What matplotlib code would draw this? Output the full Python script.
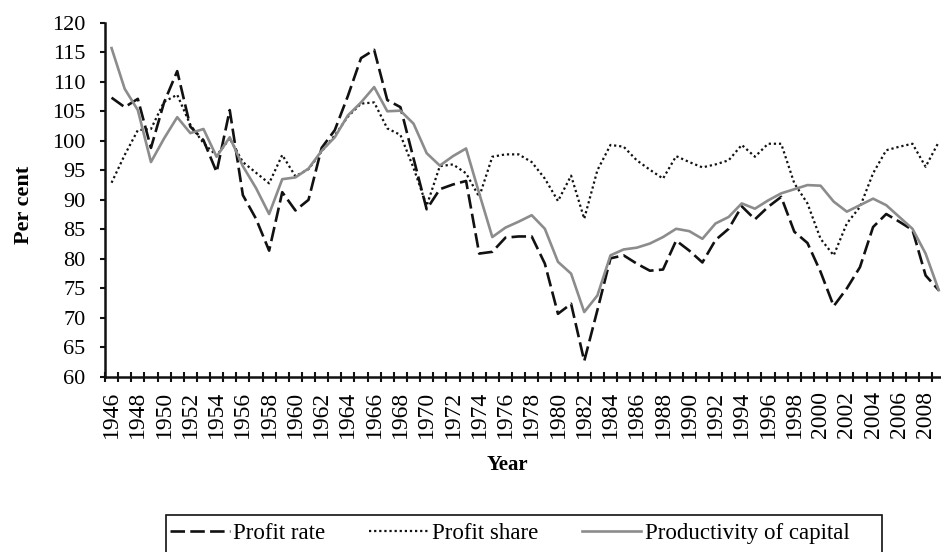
import numpy as np
import matplotlib
matplotlib.use('Agg')
import matplotlib.pyplot as plt
from matplotlib.patches import Rectangle
from matplotlib.ticker import FixedLocator

years = list(range(1946, 2010))

profit_rate = [107.3, 105.7, 107.1, 98.8, 106.5, 111.8, 102.4, 100.1, 94.7, 105.2,
               90.8, 86.8, 81.4, 91.3, 88.2, 90.0, 98.8, 101.8, 107.6, 114.0,
               115.4, 106.9, 105.7, 97.0, 88.4, 91.8, 92.6, 93.2, 80.9, 81.2,
               83.6, 83.8, 83.8, 79.2, 70.7, 72.4, 62.7, 71.3, 80.1, 80.6,
               79.2, 78.0, 78.2, 83.1, 81.4, 79.4, 83.2, 85.1, 88.9, 86.7,
               88.8, 90.5, 84.6, 82.7, 77.8, 72.0, 75.0, 78.6, 85.4, 87.6,
               86.3, 84.9, 77.2, 74.7]

profit_share = [92.9, 97.6, 101.8, 102.0, 106.6, 107.8, 102.7, 99.6, 97.5, 100.4,
                96.4, 94.6, 92.8, 97.6, 94.0, 95.2, 98.2, 100.9, 104.1, 106.3,
                106.5, 102.1, 101.0, 95.4, 89.0, 95.7, 96.0, 94.5, 90.5, 97.3,
                97.7, 97.7, 96.4, 93.6, 89.8, 94.1, 86.8, 95.0, 99.3, 99.0,
                96.7, 95.1, 93.6, 97.4, 96.4, 95.5, 96.0, 96.7, 99.3, 97.3,
                99.5, 99.5, 92.8, 89.4, 83.4, 80.6, 86.0, 88.8, 94.5, 98.4,
                99.0, 99.5, 95.6, 99.8]

productivity = [115.7, 108.8, 105.2, 96.4, 100.4, 104.0, 101.3, 102.0, 97.3, 100.6,
                95.7, 92.0, 87.6, 93.5, 93.8, 95.3, 98.3, 100.6, 104.3, 106.5,
                109.1, 105.0, 105.1, 102.9, 97.9, 95.8, 97.4, 98.7, 91.1, 83.7,
                85.3, 86.3, 87.4, 85.1, 79.5, 77.5, 71.0, 73.8, 80.6, 81.6,
                81.9, 82.6, 83.7, 85.1, 84.7, 83.4, 86.0, 87.1, 89.4, 88.5,
                89.9, 91.1, 91.8, 92.5, 92.4, 89.7, 88.0, 89.1, 90.2, 89.1,
                87.1, 85.1, 80.9, 74.7]

plt.rcParams['font.family'] = ['Liberation Serif', 'DejaVu Serif']

W, H = 941, 552
fig = plt.figure(figsize=(W / 100, H / 100), dpi=100)

# plot area in pixels: left 105, right ~945 (cropped by the image), top 22.7, bottom 377
left, right, top, bottom = 105, 945.3, 22.7, 377
ax = fig.add_axes([left / W, 1 - bottom / H, (right - left) / W, (bottom - top) / H])

ax.plot(years, profit_rate, color='#111111', lw=1.9, dashes=(5.5, 2.0),
        label='Profit rate')
ax.plot(years, profit_share, color='#111111', lw=1.6, dashes=(1.0, 1.3),
        label='Profit share')
ax.plot(years, productivity, color='#8c8c8c', lw=1.9,
        label='Productivity of capital')

ax.set_xlim(years[0] - 0.5, years[-1] + 0.5)
ax.set_ylim(60, 120)
ax.set_yticks(np.arange(60, 121, 5))

ax.xaxis.set_major_locator(FixedLocator(years[::2]))
ax.xaxis.set_minor_locator(FixedLocator(np.arange(years[0] - 0.5, years[-1] + 1, 1)))
ax.set_xticklabels([str(y) for y in years[::2]], rotation=90, fontsize=17)
ax.tick_params(axis='x', which='major', length=0, pad=10)
ax.tick_params(axis='x', which='minor', direction='inout', length=7, width=1.5,
               color='#111111')
ax.tick_params(axis='y', direction='out', length=3.6, width=1.5, color='#111111',
               labelsize=16, pad=10.5)

for side in ['top', 'right']:
    ax.spines[side].set_visible(False)
for side in ['left', 'bottom']:
    ax.spines[side].set_linewidth(1.8)
    ax.spines[side].set_color('#111111')

fig.text(24 / W, 1 - 205 / H, 'Per cent', rotation=90, fontsize=16,
         fontweight='bold', ha='center', va='center')
fig.text(507 / W, 1 - 465 / H, 'Year', fontsize=15, fontweight='bold',
         ha='center', va='center')

# legend box runs off the bottom of the picture, as in the original
fig.patches.append(Rectangle((166 / W, -0.05), (882 - 166) / W, 0.05 + (552 - 515) / H,
                             transform=fig.transFigure, fill=False,
                             edgecolor='#111111', lw=1.2))
leg = fig.legend(loc='upper left', ncol=3,
                 bbox_to_anchor=(166 / W, 1 - 519 / H),
                 borderaxespad=0, frameon=False, fontsize=16.5,
                 handlelength=2.6, handletextpad=0.15, borderpad=0.18,
                 columnspacing=1.9)

fig.savefig('out.png', dpi=100)
